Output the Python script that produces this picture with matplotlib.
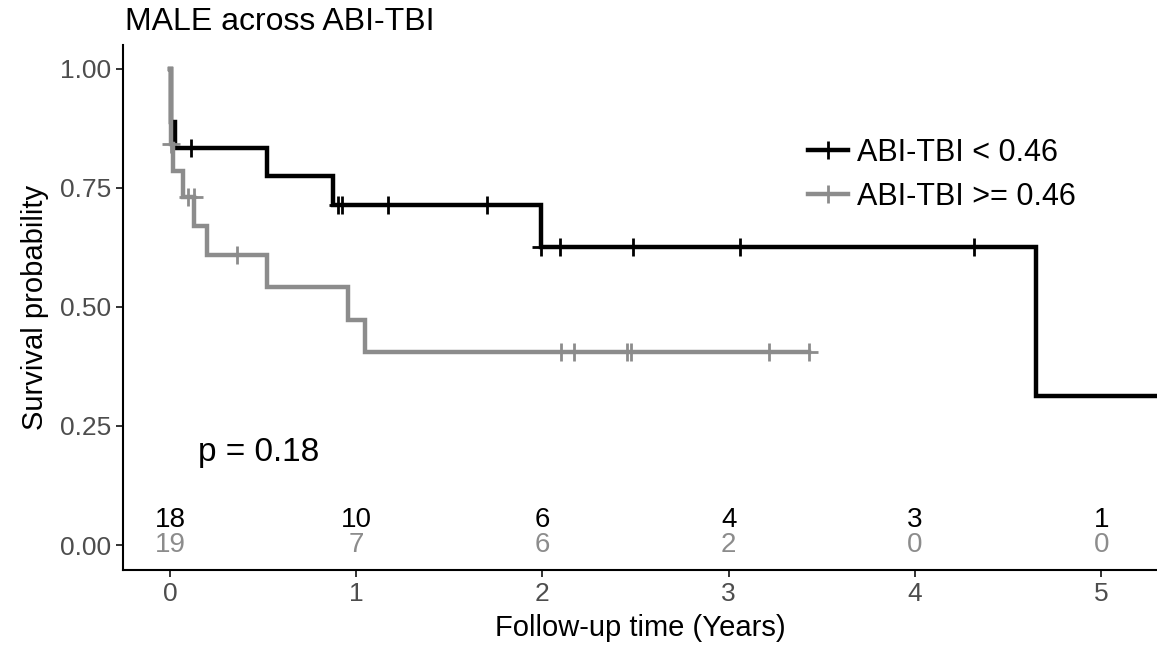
import numpy as np
import matplotlib
matplotlib.use("Agg")
import matplotlib.pyplot as plt

plt.rcParams['font.family'] = ['Liberation Sans', 'DejaVu Sans']

# Кривые Каплана-Мейера (время в годах, вероятность)
low_times = [0.0, 0.004, 0.027, 0.52, 0.875, 1.99, 4.65, 5.4]
low_surv = [1.0, 0.889, 0.833, 0.774, 0.714, 0.625, 0.3125, 0.3125]
low_censor = [0.113, 0.90, 0.925, 1.17, 1.70, 1.995, 2.095, 2.487, 3.06, 4.32]

high_times = [0.0, 0.004, 0.016, 0.07, 0.13, 0.20, 0.52, 0.955, 1.05, 3.43]
high_surv = [1.0, 0.842, 0.786, 0.730, 0.669, 0.608, 0.541, 0.473, 0.406, 0.406]
high_censor = [0.006, 0.097, 0.128, 0.36, 2.10, 2.17, 2.455, 2.476, 3.217, 3.43]

labels = ["ABI-TBI < 0.46", "ABI-TBI >= 0.46"]
colors = ["#000000", "#8c8c8c"]

# Таблица числа пациентов под риском
risk_times = [0, 1, 2, 3, 4, 5]
risk_low = [18, 10, 6, 4, 3, 1]
risk_high = [19, 7, 6, 2, 0, 0]

p_text = "p = 0.18"


def censor_y(times, surv, cens):
    idx = np.searchsorted(times, cens, side='right') - 1
    return np.array(surv)[idx]


fig = plt.figure(figsize=(11.57, 6.54), dpi=100)
ax = fig.add_axes([0.1063, 0.1284, 0.8937, 0.8028])

curves = [(low_times, low_surv, low_censor), (high_times, high_surv, high_censor)]
for (t, s, c), lab, col in zip(curves, labels, colors):
    ax.step(t, s, where='post', color=col, lw=3.2, solid_joinstyle='miter')
    ax.plot(c, censor_y(t, s, c), ls='none', marker='+', ms=13, mew=2.0, color=col)
    ax.plot([], [], color=col, lw=3.2, marker='+', ms=13, mew=2.0, label=lab)

# числа под риском внутри графика
for x, n1, n2 in zip(risk_times, risk_low, risk_high):
    ax.text(x, 0.053, str(n1), color=colors[0], fontsize=20, ha='center', va='center')
    ax.text(x, 0.0, str(n2), color=colors[1], fontsize=20, ha='center', va='center')

ax.text(0.15, 0.195, p_text, fontsize=24, ha='left', va='center')

ax.set_xlim(-0.252, 5.30)
ax.set_ylim(-0.0525, 1.050)
ax.set_xticks(risk_times)
ax.set_yticks([0.0, 0.25, 0.5, 0.75, 1.0])
ax.set_yticklabels(["0.00", "0.25", "0.50", "0.75", "1.00"])
ax.tick_params(labelsize=19, labelcolor="#4d4d4d", length=5, width=1.4, color="#333333")

for side in ['top', 'right']:
    ax.spines[side].set_visible(False)
for side in ['left', 'bottom']:
    ax.spines[side].set_linewidth(1.5)

ax.set_xlabel("Follow-up time (Years)", fontsize=21, labelpad=6)
ax.set_ylabel("Survival probability", fontsize=21, labelpad=8)
fig.text(125 / 1157, 1 - 22 / 654, "MALE across ABI-TBI", fontsize=23, ha='left', va='center')

ax.legend(loc='center left', bbox_to_anchor=(808 / 1157, 1 - 175 / 654), bbox_transform=fig.transFigure,
          frameon=False, fontsize=22, handlelength=1.3, handletextpad=0.3, borderpad=0,
          borderaxespad=0, labelspacing=0.45)

fig.savefig("out.png", dpi=100)
